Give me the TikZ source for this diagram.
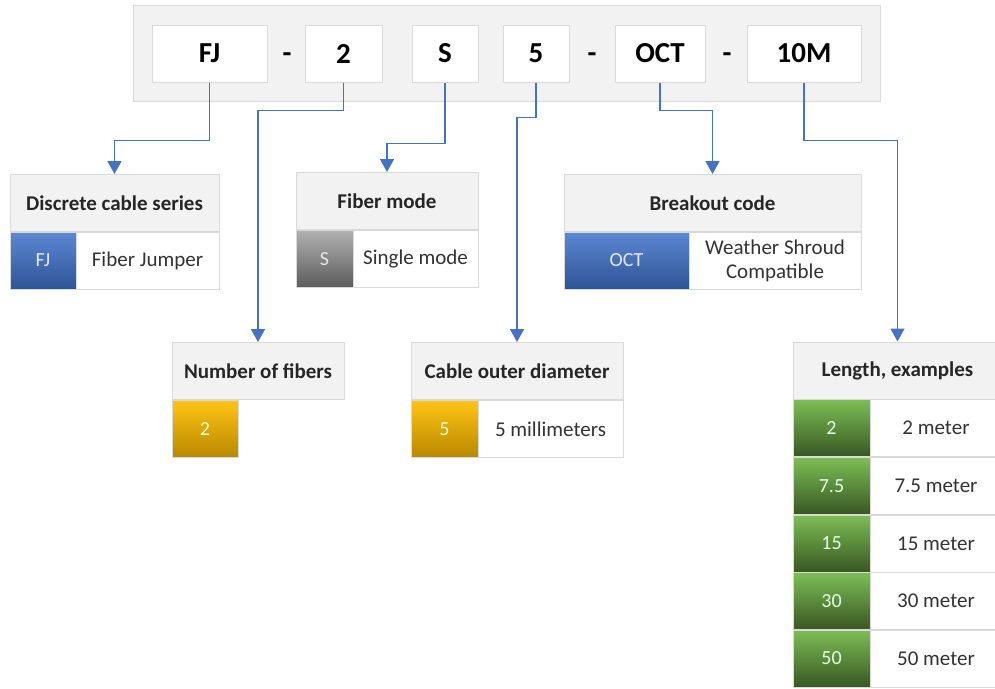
\documentclass[tikz,border=0pt]{standalone}
\usepackage{fontspec}
\setmainfont{Carlito}
\usetikzlibrary{arrows.meta}

\begin{document}
\begin{tikzpicture}[x=1pt,y=-1pt,
    codebox/.style={shape=rectangle,draw=cell_line,fill=white,line width=1pt,inner sep=0pt,minimum height=57pt,font=\fontsize{29}{34}\selectfont\bfseries},
    sepmark/.style={anchor=base,inner sep=0pt,font=\fontsize{29}{34}\selectfont\bfseries},
    headbox/.style={shape=rectangle,draw=cell_line,fill=head_fill,line width=1pt,inner sep=0pt,minimum height=57pt,text=black!85,font=\fontsize{21}{24}\selectfont\bfseries},
    textbox/.style={shape=rectangle,draw=cell_line,fill=white,line width=1pt,inner sep=0pt,minimum height=57pt,align=center,text=black!80,font=\fontsize{21}{24}\selectfont},
    colbox/.style={shape=rectangle,draw=cell_line,line width=1pt,inner sep=0pt,minimum height=57pt,font=\fontsize{20}{24}\selectfont},
    link/.style={draw=link_blue,line width=1.5pt,-{Triangle[width=14pt,length=13pt]}}]
    \definecolor{cell_line}{RGB}{217,217,217}
    \definecolor{head_fill}{RGB}{242,242,242}
    \definecolor{link_blue}{RGB}{68,114,196}
    \definecolor{blue_top}{RGB}{92,136,210}
    \definecolor{blue_bot}{RGB}{46,84,150}
    \definecolor{gray_top}{RGB}{176,176,176}
    \definecolor{gray_bot}{RGB}{92,92,92}
    \definecolor{yellow_top}{RGB}{255,196,20}
    \definecolor{yellow_bot}{RGB}{184,136,0}
    \definecolor{green_top}{RGB}{125,190,85}
    \definecolor{green_bot}{RGB}{56,87,35}

    \useasboundingbox (0,0) rectangle (995,688);

    % part number
    \node[shape=rectangle,draw=cell_line,fill=head_fill,line width=1pt,minimum width=747pt,minimum height=96pt] (frame) at (506.5,53) {};
    \node[codebox,minimum width=115pt] (code_fj) at (209.5,53.5) {FJ};
    \node[sepmark] (sep_a) at (287,62) {-};
    \node[codebox,minimum width=77pt] (code_nf) at (343.5,53.5) {2};
    \node[codebox,minimum width=66pt] (code_sm) at (445,53.5) {S};
    \node[codebox,minimum width=66pt] (code_cd) at (536,53.5) {5};
    \node[sepmark] (sep_b) at (592,62) {-};
    \node[codebox,minimum width=90pt] (code_oct) at (660,53.5) {OCT};
    \node[sepmark] (sep_c) at (727,62) {-};
    \node[codebox,minimum width=114pt] (code_len) at (804,53.5) {10M};

    % upper row of tables
    \node[headbox,minimum width=209pt] (head_series) at (114.5,203) {Discrete cable series};
    \node[colbox,top color=blue_top,bottom color=blue_bot,text=blue!10,minimum width=66pt] (col_series) at (43,260.5) {FJ};
    \node[textbox,minimum width=143pt] (txt_series) at (147.5,260.5) {Fiber Jumper};

    \node[headbox,minimum width=182pt] (head_mode) at (387,201) {Fiber mode};
    \node[colbox,top color=gray_top,bottom color=gray_bot,text=black!10,minimum width=57pt] (col_mode) at (324.5,259) {S};
    \node[textbox,minimum width=125pt] (txt_mode) at (415.5,259) {Single mode};

    \node[headbox,minimum width=297pt] (head_break) at (712.5,203) {Breakout code};
    \node[colbox,top color=blue_top,bottom color=blue_bot,text=blue!10,minimum width=125pt] (col_break) at (626.5,260.5) {OCT};
    \node[textbox,minimum width=172pt] (txt_break) at (775,260.5) {Weather Shroud\\Compatible};

    % lower row of tables
    \node[headbox,minimum width=172pt] (head_fibers) at (258,371) {Number of fibers};
    \node[colbox,top color=yellow_top,bottom color=yellow_bot,text=yellow!20,minimum width=66pt] (col_fibers) at (205,429) {2};

    \node[headbox,minimum width=212pt] (head_diam) at (517,371) {Cable outer diameter};
    \node[colbox,top color=yellow_top,bottom color=yellow_bot,text=yellow!20,minimum width=67pt] (col_diam) at (444.5,429) {5};
    \node[textbox,minimum width=145pt] (txt_diam) at (550.5,429) {5 millimeters};

    \node[headbox,minimum width=209pt] (head_len) at (897.5,370.5) {Length, examples};
    \node[colbox,top color=green_top,bottom color=green_bot,text=green!10,minimum width=77pt] (col_len_a) at (831.5,428) {2};
    \node[textbox,minimum width=132pt] (txt_len_a) at (936,428) {2 meter};
    \node[colbox,top color=green_top,bottom color=green_bot,text=green!10,minimum width=77pt] (col_len_b) at (831.5,486) {7.5};
    \node[textbox,minimum width=132pt] (txt_len_b) at (936,486) {7.5 meter};
    \node[colbox,top color=green_top,bottom color=green_bot,text=green!10,minimum width=77pt] (col_len_c) at (831.5,543.5) {15};
    \node[textbox,minimum width=132pt] (txt_len_c) at (936,543.5) {15 meter};
    \node[colbox,top color=green_top,bottom color=green_bot,text=green!10,minimum width=77pt] (col_len_d) at (831.5,601) {30};
    \node[textbox,minimum width=132pt] (txt_len_d) at (936,601) {30 meter};
    \node[colbox,top color=green_top,bottom color=green_bot,text=green!10,minimum width=77pt] (col_len_e) at (831.5,658.5) {50};
    \node[textbox,minimum width=132pt] (txt_len_e) at (936,658.5) {50 meter};

    % connectors
    \draw[link] (code_fj.south) -- ++(0,58) -| (head_series.north);
    \draw[link] (code_nf.south) -- ++(0,28) -| (head_fibers.north);
    \draw[link] (code_sm.south) -- ++(0,61) -| (head_mode.north);
    \draw[link] (code_cd.south) -- ++(0,35) -| (head_diam.north);
    \draw[link] (code_oct.south) -- ++(0,28) -| (head_break.north);
    \draw[link] (code_len.south) -- ++(0,58) -| (head_len.north);

\end{tikzpicture}
\end{document}
